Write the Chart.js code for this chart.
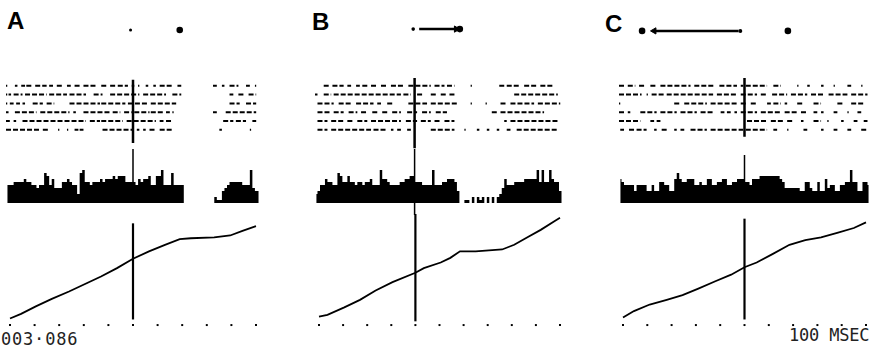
<!DOCTYPE html>
<html>
<head>
<meta charset="utf-8">
<script src="https://cdn.jsdelivr.net/npm/chart.js@4.4.1/dist/chart.umd.min.js"></script>
<style>
body { margin: 0; background: #fff; }
#fig { position: relative; width: 875px; height: 350px; overflow: hidden; background: #fff; }
#fig canvas { position: absolute; }
.letter { position: absolute; font: bold 24px "Liberation Sans", Arial, sans-serif; line-height: 24px; color: #000; }
.note { position: absolute; font: 17px "DejaVu Sans Mono", monospace; line-height: 17px; color: #222; white-space: pre; }
</style>
</head>
<body>
<div id="fig">
  <div class="letter" style="left:7px;top:9px">A</div>
  <div class="letter" style="left:312px;top:10px">B</div>
  <div class="letter" style="left:605px;top:12px">C</div>
  <div class="note" style="left:1px;top:331px;letter-spacing:0.8px">003·086</div>
  <div class="note" style="left:789px;top:327px;letter-spacing:-0.2px">100 MSEC</div>
</div>
<script>
// time axis (ms), ticks every 100 ms
const ticksA = [-500, -400, -300, -200, -100, 0, 100, 200, 300, 400, 500];
const ticksB = [-400, -300, -200, -100, 0, 100, 200, 300, 400, 500, 600];
const ticksC = [-500, -400, -300, -200, -100, 0, 100, 200, 300, 400, 500];

// raster: per trial, runs of spikes [start, end] in ms
const rasterA = [
    [[-500,-495],[-465,-455],[-440,-425],[-420,-395],[-385,-340],[-330,-315],[-300,-275],[-260,-245],[-230,-210],[-195,-145],[-125,-105],[-90,-70],[-60,-20],[-5,5],[20,25],[50,60],[80,90],[105,155],[175,190],[315,330],[350,360],[380,415],[445,460],[480,485]],
    [[-500,-495],[-490,-480],[-470,-435],[-425,-340],[-330,-260],[-250,-185],[-155,-120],[-90,25],[40,130],[155,190],[380,395],[415,435],[455,485]],
    [[-500,-495],[-485,-470],[-460,-445],[-435,-425],[-395,-355],[-340,-310],[-250,-130],[-125,-30],[-20,60],[70,170],[380,420],[445,485]],
    [[-500,-490],[-465,-380],[-365,-250],[-235,-225],[-195,-90],[-80,-50],[-35,-5],[5,65],[70,120],[130,145],[155,160],[315,330],[365,485]],
    [[-500,-485],[-470,-460],[-435,-185],[-170,-130],[-125,-40],[-25,90],[105,120],[130,155],[355,395],[405,445],[470,485]],
    [[-500,-365],[-355,-330],[-295,-290],[-260,-255],[-230,-215],[-210,-195],[-120,0],[15,25],[40,50],[65,90],[105,155],[340,350],[460,465]]
];
const rasterB = [
    [[-365,-345],[-330,-285],[-270,-255],[-235,-220],[-210,-190],[-175,-150],[-135,-110],[-95,-45],[-25,65],[80,120],[130,160],[225,230],[340,360],[370,425],[440,495],[505,560]],
    [[-400,-390],[-365,-335],[-325,-55],[-45,-15],[10,35],[65,85],[105,125],[140,160],[400,575]],
    [[-390,-325],[-305,-255],[-235,-165],[-150,-135],[-110,-85],[-25,50],[65,170],[225,230],[285,290],[345,370],[385,480],[495,585]],
    [[-390,-335],[-325,-285],[-265,-230],[-215,-195],[-170,-150],[-130,-110],[-90,-55],[-30,10],[30,65],[85,130],[310,330],[345,520]],
    [[-390,-350],[-335,-285],[-270,-245],[-230,-190],[-175,-55],[-35,10],[25,65],[80,105],[120,160],[360,370],[385,575]],
    [[-390,-350],[-335,-175],[-165,-110],[-95,-85],[-70,-55],[-30,-15],[65,160],[200,205],[250,260],[290,300],[330,340],[370,385],[410,575]]
];
const rasterC = [
    [[-500,-480],[-465,-435],[-420,-395],[-375,-355],[-335,-215],[-200,-120],[-100,-30],[-15,-5],[5,90],[115,145],[210,215],[250,260],[305,315],[355,360],[410,425],[465,470]],
    [[-500,-410],[-390,-385],[-370,-320],[-310,-125],[-110,-30],[-15,50],[65,90],[110,170],[185,250],[265,315],[335,410],[425,490]],
    [[-500,-495],[-280,-255],[-240,-150],[-135,-30],[-15,10],[25,50],[90,105],[115,145],[160,170],[210,230],[275,305],[370,395],[425,475]],
    [[-500,-480],[-465,-455],[-415,-350],[-335,-270],[-255,-190],[-175,-120],[-95,-80],[-70,-55],[-40,-30],[-15,50],[65,145],[160,210],[225,250],[275,290],[305,315],[355,370],[410,415],[450,465]],
    [[-500,-415],[-375,-360],[-350,-335],[10,90],[105,155],[170,195],[225,235],[275,305],[330,335],[385,395],[435,450],[475,490]],
    [[-495,-480],[-460,-440],[-430,-390],[-360,-350],[-330,-310],[-280,-270],[-255,-240],[-215,-150],[-135,-5],[5,90],[115,130],[170,175],[235,250],[305,315],[355,370],[410,425],[465,490]]
];

// histograms, 10 ms bins starting at the left edge of each panel
const histA = [
    6,6,6,7,7,7,7,8,7,7,
    6,6,5,6,6,10,9,6,8,5,
    5,5,7,7,8,7,6,6,3,10,
    11,7,7,6,7,7,7,8,7,8,
    8,8,9,8,9,9,9,7,7,7,
    7,6,8,7,8,8,9,6,6,9,
    9,11,6,6,6,10,6,6,6,6,
    0,0,0,0,0,0,0,0,0,0,
    0,0,2,1,1,4,5,6,7,7,
    7,7,7,6,6,6,11,5,4,4
];
const histB = [
    3,4,6,6,8,7,7,6,6,10,
    9,7,7,9,7,7,6,7,7,6,
    7,7,8,6,6,6,11,8,8,7,
    6,6,6,6,7,7,8,8,9,9,
    7,7,7,6,6,6,6,11,6,6,
    6,7,7,8,8,8,7,4,0,0,
    1,1,0,2,0,2,1,2,0,2,
    0,2,0,2,3,5,8,6,6,6,
    7,7,7,7,8,8,8,8,8,11,
    7,11,7,7,11,8,7,7,4,0
];
const histC = [
    8,7,6,6,6,6,4,6,6,6,
    6,4,4,6,4,4,7,7,6,6,
    4,4,8,10,8,7,7,8,8,8,
    6,6,7,6,6,8,8,6,6,7,
    7,8,8,6,6,7,7,8,8,8,
    7,7,6,8,8,8,9,9,9,9,
    9,9,9,9,8,7,5,5,5,5,
    5,5,4,4,7,7,5,4,4,7,
    4,4,8,5,6,6,4,4,6,6,
    7,7,11,7,7,4,4,7,7,6
];
const binWidth = 10;

// cumulative spike count
const cumTimesA = [-500,-455,-395,-330,-260,-195,-130,-65,0,65,130,190,235,330,395,445,500];
const cumValuesA = [3,8,16,24,32,40,48,57,67,75,82,88,89,90,92,97,102];
const cumTimesB = [-400,-365,-295,-230,-165,-95,0,35,105,145,185,250,305,360,410,465,520,575,600];
const cumValuesB = [5,7,15,23,33,42,52,57,63,68,75,75,76,77,82,90,98,107,111];
const cumTimesC = [-500,-455,-390,-320,-255,-190,-120,-55,0,50,115,185,250,315,385,450,500];
const cumValuesC = [4,11,18,23,28,35,43,50,58,63,72,82,87,90,95,100,106];

// target diagram (deg): fixation spot, targets, saccade arrow [from, to]
const fixationA = [-0.2], targetsA = [3.8], arrowA = null;
const fixationB = [-2.2], targetsB = [1.7], arrowB = [-1.7, 1.4];
const fixationC = [-0.35], targetsC = [-8.5, 3.6], arrowC = [-0.5, -7.5];

const panels = [
    { left: 6, width: 254, xMin: -500, xMax: 500, ticks: ticksA, raster: rasterA, hist: histA,
      cumT: cumTimesA, cumV: cumValuesA, fix: fixationA, targets: targetsA, arrow: arrowA, hy: 0.5, fixR: 1.5,
      evRaster: [0.3, 7.5], evHist: [0, 18], evCum: [2, 105] },
    { left: 315, width: 249, xMin: -400, xMax: 600, ticks: ticksB, raster: rasterB, hist: histB,
      cumT: cumTimesB, cumV: cumValuesB, fix: fixationB, targets: targetsB, arrow: arrowB, hy: 0.53, fixR: 1.8,
      evRaster: [0.1, 8.1], evHist: [-4, 18], evCum: [0, 115] },
    { left: 619, width: 251, xMin: -500, xMax: 500, ticks: ticksC, raster: rasterC, hist: histC,
      cumT: cumTimesC, cumV: cumValuesC, fix: fixationC, targets: targetsC, arrow: arrowC, hy: 0.47, fixR: 2,
      evRaster: [0.1, 6.8], evHist: [0, 16], evCum: [2, 110] }
];

const fig = document.getElementById("fig");

function makeChart(left, top, width, height, datasets, xMin, xMax, yMin, yMax, yReverse) {
    const canvas = document.createElement("canvas");
    canvas.width = width;
    canvas.height = height;
    canvas.style.left = left + "px";
    canvas.style.top = top + "px";
    canvas.style.width = width + "px";
    canvas.style.height = height + "px";
    fig.appendChild(canvas);

    return new Chart(canvas, {
        type: "line",
        data: { datasets: datasets },
        options: {
            responsive: false,
            animation: false,
            events: [],
            layout: { padding: 0 },
            plugins: {
                legend: { display: false },
                tooltip: { enabled: false }
            },
            scales: {
                x: { type: "linear", display: false, min: xMin, max: xMax },
                y: { type: "linear", display: false, min: yMin, max: yMax, reverse: !!yReverse }
            }
        }
    });
}

function eventLine(span, width) {
    return {
        data: [{ x: 0, y: span[0] }, { x: 0, y: span[1] }],
        borderColor: "#000",
        borderWidth: width,
        pointRadius: 0,
        clip: false
    };
}

panels.forEach(p => {
    // header: fixation spot, targets and saccade arrow
    const header = [
        {
            data: p.fix.map(x => ({ x: x, y: p.hy })),
            showLine: false, pointRadius: p.fixR, pointBackgroundColor: "#000", pointBorderWidth: 0, clip: false
        },
        {
            data: p.targets.map(x => ({ x: x, y: p.hy })),
            showLine: false, pointRadius: 3.3, pointBackgroundColor: "#000", pointBorderWidth: 0, clip: false
        }
    ];
    if (p.arrow) {
        header.push({
            data: [{ x: p.arrow[0], y: p.hy }, { x: p.arrow[1], y: p.hy }],
            borderColor: "#000",
            borderWidth: 2.5,
            pointStyle: "triangle",
            pointRadius: [0, 3.6],
            pointRotation: [0, p.arrow[1] > p.arrow[0] ? 90 : 270],
            pointBackgroundColor: "#000",
            pointBorderColor: "#000",
            pointBorderWidth: 1,
            clip: false
        });
    }
    makeChart(p.left, 10, p.width, 40, header, -10, 10, 0, 1, false);

    // raster
    const rows = p.raster.map((segs, r) => {
        const pts = [];
        segs.forEach(s => {
            pts.push({ x: s[0], y: r + 1 }, { x: s[1], y: r + 1 }, { x: s[1], y: null });
        });
        return {
            data: pts,
            borderColor: "#000",
            borderWidth: 2,
            borderDash: [5, 2],
            spanGaps: false,
            pointRadius: 0,
            clip: false
        };
    });
    rows.push(eventLine(p.evRaster, 2.5));
    makeChart(p.left, 77, p.width, 72, rows, p.xMin, p.xMax, 0, 8.18, true);

    // histogram
    const hist = {
        data: p.hist.map((v, i) => ({ x: p.xMin + (i + 0.5) * binWidth, y: v })),
        stepped: "middle",
        fill: "origin",
        backgroundColor: "#000",
        borderColor: "rgba(0,0,0,0)",
        borderWidth: 0,
        pointRadius: 0,
        clip: false
    };
    makeChart(p.left, 143, p.width, 72, [hist, eventLine(p.evHist, 1.5)], p.xMin, p.xMax, -4, 20, false);

    // cumulative count + time ticks
    const cum = {
        data: p.cumT.map((t, i) => ({ x: t, y: p.cumV[i] })),
        borderColor: "#000",
        borderWidth: 1.8,
        pointRadius: 0,
        tension: 0,
        clip: false
    };
    const tickDots = {
        data: p.ticks.map(t => ({ x: t, y: -4 })),
        showLine: false,
        pointStyle: "rect",
        pointRadius: 1.4,
        pointBackgroundColor: "#000",
        pointBorderWidth: 0,
        clip: false
    };
    makeChart(p.left, 210, p.width, 120, [cum, eventLine(p.evCum, 2.2), tickDots], p.xMin, p.xMax, -5, 115, false);
});
</script>
</body>
</html>
